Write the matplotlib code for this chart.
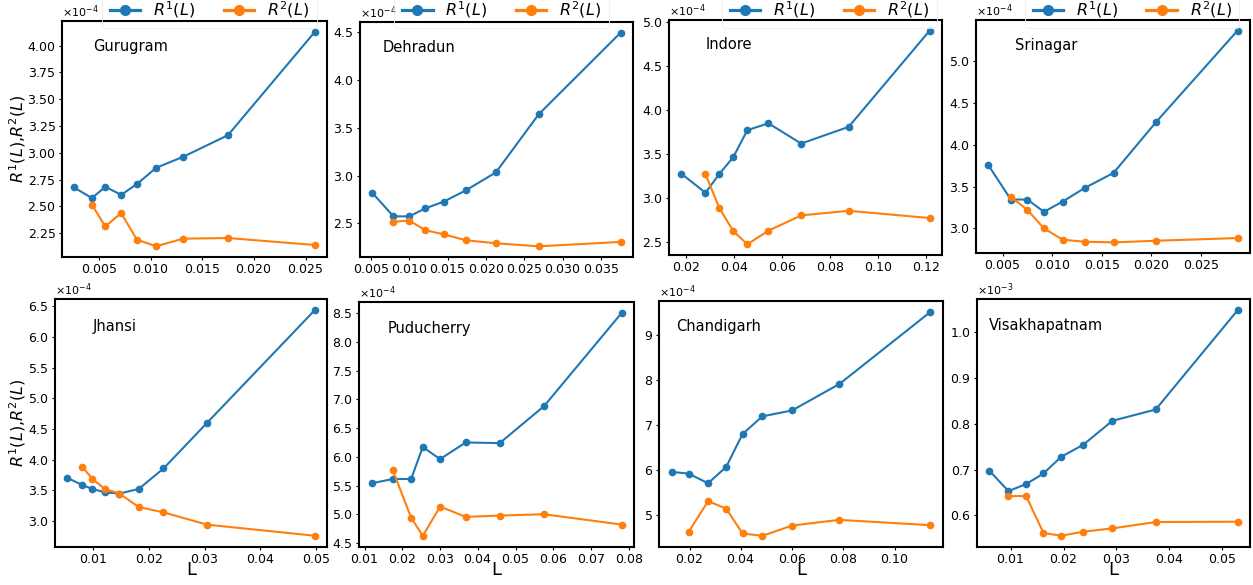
import matplotlib
matplotlib.use("Agg")
import matplotlib.pyplot as plt
from matplotlib.lines import Line2D
from matplotlib.ticker import MultipleLocator

# ---------------- data ----------------
cities = ["Gurugram", "Dehradun", "Indore", "Srinagar",
          "Jhansi", "Puducherry", "Chandigarh", "Visakhapatnam"]

gurugram_L = [0.00259, 0.00432, 0.00561, 0.00715, 0.00867, 0.01053, 0.01314, 0.01748, 0.0259]
gurugram_R1 = [2.676e-4, 2.576e-4, 2.682e-4, 2.607e-4, 2.707e-4, 2.859e-4, 2.962e-4, 3.164e-4, 4.131e-4]
gurugram_R2 = [2.514e-4, 2.312e-4, 2.436e-4, 2.188e-4, 2.126e-4, 2.197e-4, 2.203e-4, 2.138e-4]

dehradun_L = [0.00517, 0.00791, 0.0100, 0.01209, 0.01448, 0.01739, 0.0213, 0.02687, 0.03757]
dehradun_R1 = [2.818e-4, 2.573e-4, 2.573e-4, 2.657e-4, 2.727e-4, 2.846e-4, 3.034e-4, 3.641e-4, 4.497e-4]
dehradun_R2 = [2.517e-4, 2.528e-4, 2.427e-4, 2.385e-4, 2.322e-4, 2.291e-4, 2.259e-4, 2.305e-4]

indore_L = [0.01805, 0.02808, 0.0338, 0.03965, 0.04551, 0.05429, 0.06794, 0.08774, 0.12146]
indore_R1 = [3.273e-4, 3.057e-4, 3.269e-4, 3.462e-4, 3.769e-4, 3.848e-4, 3.617e-4, 3.807e-4, 4.902e-4]
indore_R2 = [3.269e-4, 2.886e-4, 2.621e-4, 2.470e-4, 2.625e-4, 2.799e-4, 2.852e-4, 2.769e-4]

srinagar_L = [0.00355, 0.00581, 0.00747, 0.00916, 0.01105, 0.01328, 0.01618, 0.02047, 0.0287]
srinagar_R1 = [3.755e-4, 3.346e-4, 3.346e-4, 3.199e-4, 3.322e-4, 3.485e-4, 3.664e-4, 4.272e-4, 5.366e-4]
srinagar_R2 = [3.378e-4, 3.223e-4, 3.000e-4, 2.865e-4, 2.841e-4, 2.833e-4, 2.853e-4, 2.885e-4]

jhansi_L = [0.00532, 0.00796, 0.00982, 0.01204, 0.01468, 0.01816, 0.0226, 0.03046, 0.04977]
jhansi_R1 = [3.703e-4, 3.588e-4, 3.523e-4, 3.468e-4, 3.447e-4, 3.523e-4, 3.856e-4, 4.603e-4, 6.435e-4]
jhansi_R2 = [3.888e-4, 3.686e-4, 3.523e-4, 3.447e-4, 3.228e-4, 3.141e-4, 2.940e-4, 2.760e-4]

puducherry_L = [0.01185, 0.01749, 0.02233, 0.02542, 0.0300, 0.03678, 0.04577, 0.05749, 0.0780]
puducherry_R1 = [5.540e-4, 5.616e-4, 5.616e-4, 6.171e-4, 5.962e-4, 6.251e-4, 6.240e-4, 6.882e-4, 8.500e-4]
puducherry_R2 = [5.766e-4, 4.945e-4, 4.627e-4, 5.136e-4, 4.957e-4, 4.980e-4, 5.003e-4, 4.824e-4]

chandigarh_L = [0.01307, 0.01961, 0.02719, 0.03425, 0.04065, 0.04837, 0.0600, 0.07843, 0.11386]
chandigarh_R1 = [5.963e-4, 5.926e-4, 5.711e-4, 6.074e-4, 6.807e-4, 7.200e-4, 7.333e-4, 7.919e-4, 9.519e-4]
chandigarh_R2 = [4.630e-4, 5.311e-4, 5.148e-4, 4.593e-4, 4.541e-4, 4.770e-4, 4.896e-4, 4.778e-4]

visakhapatnam_L = [0.00596, 0.00956, 0.01291, 0.01619, 0.01954, 0.02371, 0.02921, 0.03742, 0.05291]
visakhapatnam_R1 = [6.975e-4, 6.531e-4, 6.684e-4, 6.916e-4, 7.280e-4, 7.542e-4, 8.065e-4, 8.313e-4, 1.048e-3]
visakhapatnam_R2 = [6.422e-4, 6.422e-4, 5.615e-4, 5.556e-4, 5.644e-4, 5.716e-4, 5.855e-4, 5.862e-4]

series = {
    "Gurugram": (gurugram_L, gurugram_R1, gurugram_R2),
    "Dehradun": (dehradun_L, dehradun_R1, dehradun_R2),
    "Indore": (indore_L, indore_R1, indore_R2),
    "Srinagar": (srinagar_L, srinagar_R1, srinagar_R2),
    "Jhansi": (jhansi_L, jhansi_R1, jhansi_R2),
    "Puducherry": (puducherry_L, puducherry_R1, puducherry_R2),
    "Chandigarh": (chandigarh_L, chandigarh_R1, chandigarh_R2),
    "Visakhapatnam": (visakhapatnam_L, visakhapatnam_R1, visakhapatnam_R2),
}

# ---------------- layout (pixels: left, right, top, bottom) ----------------
W, H = 1253, 585
boxes = [
    (62, 327, 21, 257), (360, 633, 22, 257), (669, 942, 20, 255), (976, 1250, 20, 253),
    (55, 327, 299, 547), (359, 634, 302, 547), (659, 943, 301, 547), (977, 1250, 299, 547),
]
name_pos = [(0.117, 0.89), (0.083, 0.892), (0.135, 0.894), (0.142, 0.89),
            (0.139, 0.891), (0.104, 0.893), (0.06, 0.896), (0.045, 0.893)]
x_steps = [0.005, 0.005, 0.02, 0.005, 0.01, 0.01, 0.02, 0.01]
y_steps = [0.25e-4, 0.5e-4, 0.5e-4, 0.5e-4, 0.5e-4, 0.5e-4, 1e-4, 0.1e-3]
legend_cx = [209.5, 501.7, 829.5, 1132]

C1, C2 = "#1f77b4", "#ff7f0e"

plt.rcParams["font.family"] = "DejaVu Sans"
plt.rcParams["axes.formatter.use_mathtext"] = True

fig = plt.figure(figsize=(W / 100, H / 100), dpi=100)

for i, city in enumerate(cities):
    l, r, t, b = boxes[i]
    ax = fig.add_axes([l / W, 1 - b / H, (r - l) / W, (b - t) / H])
    L, R1, R2 = series[city]
    ax.plot(L, R1, "-o", color=C1, lw=1.5, ms=4.5)
    ax.plot(L[1:], R2, "-o", color=C2, lw=1.5, ms=4.5)

    ax.xaxis.set_major_locator(MultipleLocator(x_steps[i]))
    ax.yaxis.set_major_locator(MultipleLocator(y_steps[i]))
    ax.ticklabel_format(axis="y", style="sci", scilimits=(0, 0), useMathText=True)
    ax.tick_params(labelsize=9, length=2.5, pad=1.8)
    ax.yaxis.get_offset_text().set_fontsize(8)
    for sp in ax.spines.values():
        sp.set_linewidth(1.5)

    ax.text(name_pos[i][0], name_pos[i][1], city, transform=ax.transAxes,
            fontsize=10.5, ha="left", va="center")

    if i % 4 == 0:
        ax.set_ylabel(r"$R^1(L)$,$R^2(L)$", fontsize=11.5)
        ax.yaxis.set_label_coords((28 - l) / (r - l), 0.5)
    if i >= 4:
        ax.set_xlabel("L", fontsize=13)
        ax.xaxis.set_label_coords(0.5, -(561 - b) / (b - t))

    if i < 4:
        handles = [Line2D([], [], color=C1, lw=2.3, marker="o", ms=7),
                   Line2D([], [], color=C2, lw=2.3, marker="o", ms=7)]
        leg = fig.legend(handles, [r"$R^1(L)$", r"$R^2(L)$"], ncol=2,
                         loc="center", bbox_to_anchor=(legend_cx[i] / W, 1 - 10 / H),
                         fontsize=11.5, frameon=True, handlelength=1.9,
                         columnspacing=1.8, borderpad=0.5)
        leg.get_frame().set_facecolor("none")
        leg.get_frame().set_edgecolor("0.93")
        leg.get_frame().set_linewidth(0.8)

fig.savefig("out.png", dpi=100)
